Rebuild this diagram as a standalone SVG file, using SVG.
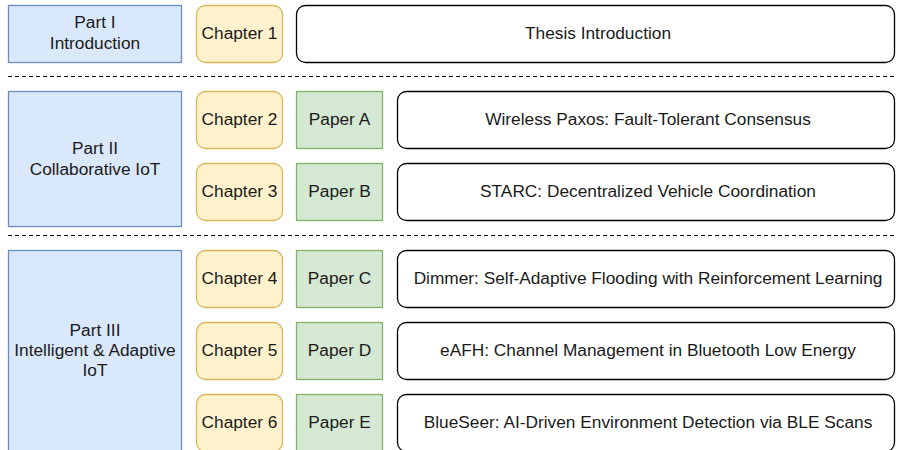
<svg xmlns="http://www.w3.org/2000/svg" width="897" height="450" viewBox="0 0 897 450">
  <style>
    text { font-family: "Liberation Sans", Arial, sans-serif; font-size: 17.3px; fill: #1a1a1a; text-anchor: middle; }
    .part { fill: #dae8fc; stroke: #6c8ebf; stroke-width: 1.3; }
    .chapter { fill: #fff2cc; stroke: #d6b656; stroke-width: 1.3; }
    .paper { fill: #d5e8d4; stroke: #82b366; stroke-width: 1.3; }
    .title { fill: #ffffff; stroke: #000000; stroke-width: 1.3; }
    .sep { stroke: #000000; stroke-width: 1.2; stroke-dasharray: 4 3; fill: none; }
  </style>
  <rect width="897" height="450" fill="#ffffff"/>

  <!-- Section separators -->
  <g id="separators">
    <line class="sep" x1="8" y1="76.5" x2="897" y2="76.5"/>
    <line class="sep" x1="8" y1="235.5" x2="897" y2="235.5"/>
  </g>

  <!-- Parts -->
  <g id="part1">
    <rect class="part" x="8.5" y="5.5" width="173" height="57"/>
    <text x="95" y="27.5">Part I</text>
    <text x="95" y="49">Introduction</text>
  </g>
  <g id="part2">
    <rect class="part" x="8.5" y="91.5" width="173" height="135"/>
    <text x="95" y="153.5">Part II</text>
    <text x="95" y="174.5">Collaborative IoT</text>
  </g>
  <g id="part3">
    <rect class="part" x="8.5" y="250.5" width="173" height="210"/>
    <text x="95" y="335.5">Part III</text>
    <text x="95" y="355.5">Intelligent &amp; Adaptive</text>
    <text x="95" y="375.5">IoT</text>
  </g>

  <!-- Chapters -->
  <g id="chapter1">
    <rect class="chapter" x="196.5" y="5.5" width="86" height="57" rx="9"/>
    <text x="239.5" y="38.5">Chapter 1</text>
  </g>
  <g id="chapter2">
    <rect class="chapter" x="196.5" y="91.5" width="86" height="57" rx="9"/>
    <text x="239.5" y="124.5">Chapter 2</text>
  </g>
  <g id="chapter3">
    <rect class="chapter" x="196.5" y="163.5" width="86" height="57" rx="9"/>
    <text x="239.5" y="196.5">Chapter 3</text>
  </g>
  <g id="chapter4">
    <rect class="chapter" x="196.5" y="250.5" width="86" height="57" rx="9"/>
    <text x="239.5" y="283.5">Chapter 4</text>
  </g>
  <g id="chapter5">
    <rect class="chapter" x="196.5" y="322.5" width="86" height="57" rx="9"/>
    <text x="239.5" y="355.5">Chapter 5</text>
  </g>
  <g id="chapter6">
    <rect class="chapter" x="196.5" y="394.5" width="86" height="57" rx="9"/>
    <text x="239.5" y="427.5">Chapter 6</text>
  </g>

  <!-- Papers -->
  <g id="paperA">
    <rect class="paper" x="296.5" y="91.5" width="86" height="57"/>
    <text x="339.5" y="124.5">Paper A</text>
  </g>
  <g id="paperB">
    <rect class="paper" x="296.5" y="163.5" width="86" height="57"/>
    <text x="339.5" y="196.5">Paper B</text>
  </g>
  <g id="paperC">
    <rect class="paper" x="296.5" y="250.5" width="86" height="57"/>
    <text x="339.5" y="283.5">Paper C</text>
  </g>
  <g id="paperD">
    <rect class="paper" x="296.5" y="322.5" width="86" height="57"/>
    <text x="339.5" y="355.5">Paper D</text>
  </g>
  <g id="paperE">
    <rect class="paper" x="296.5" y="394.5" width="86" height="57"/>
    <text x="339.5" y="427.5">Paper E</text>
  </g>

  <!-- Titles -->
  <g id="title-intro">
    <rect class="title" x="296.5" y="5.5" width="598" height="57" rx="9"/>
    <text x="598" y="38.5">Thesis Introduction</text>
  </g>
  <g id="title-A">
    <rect class="title" x="397.5" y="91.5" width="497" height="57" rx="9"/>
    <text x="648" y="124.5">Wireless Paxos: Fault-Tolerant Consensus</text>
  </g>
  <g id="title-B">
    <rect class="title" x="397.5" y="163.5" width="497" height="57" rx="9"/>
    <text x="648" y="196.5">STARC: Decentralized Vehicle Coordination</text>
  </g>
  <g id="title-C">
    <rect class="title" x="397.5" y="250.5" width="497" height="57" rx="9"/>
    <text x="648" y="283.5">Dimmer: Self-Adaptive Flooding with Reinforcement Learning</text>
  </g>
  <g id="title-D">
    <rect class="title" x="397.5" y="322.5" width="497" height="57" rx="9"/>
    <text x="648" y="355.5">eAFH: Channel Management in Bluetooth Low Energy</text>
  </g>
  <g id="title-E">
    <rect class="title" x="397.5" y="394.5" width="497" height="57" rx="9"/>
    <text x="648" y="427.5">BlueSeer: AI-Driven Environment Detection via BLE Scans</text>
  </g>
</svg>
